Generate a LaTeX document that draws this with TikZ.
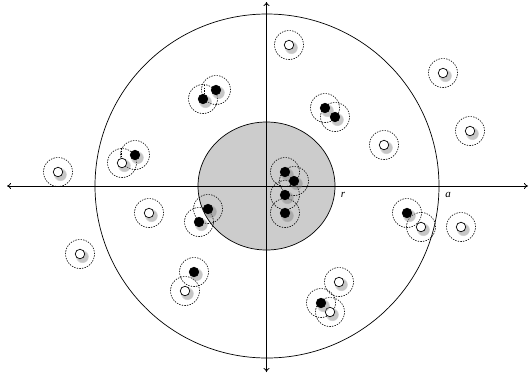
\documentclass[tikz,border=0pt]{standalone}
\usepackage{fontspec}
\setmainfont{Liberation Serif}
\usetikzlibrary{shadows,arrows.meta}
\begin{document}
\begin{tikzpicture}[x=1pt,y=-1pt,
  axis/.style={line width=0.8pt,-{To[length=4pt,width=6pt]}},
  dotbase/.style={circle,draw=black,line width=0.7pt,minimum size=9.5pt,inner sep=0pt,
    circular drop shadow={shadow xshift=1.6pt,shadow yshift=-1.8pt,shadow scale=1.4,opacity=0.45}},
  bdot/.style={dotbase,fill=black},
  wdot/.style={dotbase,fill=white},
  ring/.style={circle,draw=black,dash pattern=on 1.4pt off 1.2pt,line width=0.6pt,minimum size=29pt,inner sep=0pt},
  lbl/.style={font=\itshape\fontsize{11}{12}\selectfont,inner sep=0pt}]
\useasboundingbox (0,0) rectangle (532,376);
% regions
\draw[line width=0.7pt] (267,186) circle [radius=172];
\draw[line width=0.7pt,fill=black!20] (266.5,186) ellipse [x radius=68.5,y radius=64];
% axes
\coordinate (o) at (266.5,186);
\coordinate (top) at (266.5,2);
\coordinate (bot) at (266.5,372);
\coordinate (left) at (7,186);
\coordinate (right) at (528,186);
\draw[axis] (o) -- (top);
\draw[axis] (o) -- (bot);
\draw[axis] (o) -- (left);
\draw[axis] (o) -- (right);
\node[lbl] (r) at (343,195) {r};
\node[lbl] (a) at (448,195) {a};
% rings
\foreach \x/\y [count=\i] in {289/45, 443/73, 470/131, 384/145, 122/163, 58/172, 149/213, 421/227, 461/227, 80/254, 185/291, 339/282, 330/312}{
  \node[ring] (wr\i) at (\x,\y) {};
}
\foreach \x/\y [count=\i] in {216/90, 203/99, 325/108, 335/117, 135/155, 285/172, 294/181, 285/195, 285/213, 208/209, 199/222, 407/213, 194/272, 321/303}{
  \node[ring] (br\i) at (\x,\y) {};
}
\draw[dash pattern=on 1.4pt off 1.2pt,line width=0.6pt] (204,85) -- (204,94);
\draw[dash pattern=on 1.4pt off 1.2pt,line width=0.6pt] (121.7,148) -- (121.7,158);
% dots
\foreach \x/\y [count=\i] in {289/45, 443/73, 470/131, 384/145, 122/163, 58/172, 149/213, 421/227, 461/227, 80/254, 185/291, 339/282, 330/312}{
  \node[wdot] (w\i) at (\x,\y) {};
}
\foreach \x/\y [count=\i] in {216/90, 203/99, 325/108, 335/117, 135/155, 285/172, 294/181, 285/195, 285/213, 208/209, 199/222, 407/213, 194/272, 321/303}{
  \node[bdot] (b\i) at (\x,\y) {};
}
\end{tikzpicture}
\end{document}
